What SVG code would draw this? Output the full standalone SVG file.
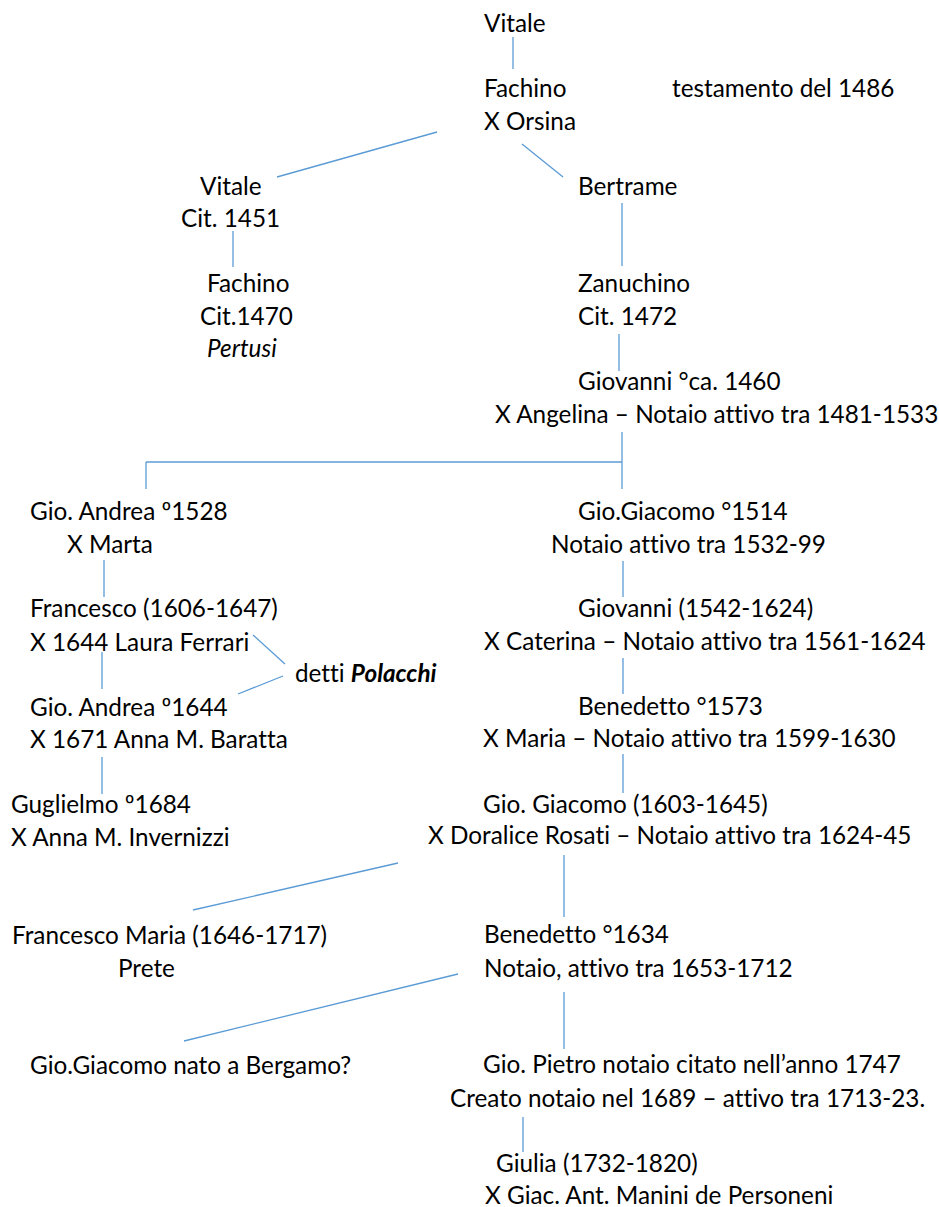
<svg xmlns="http://www.w3.org/2000/svg" width="939" height="1207" viewBox="0 0 939 1207">
  <style>
    text { font-family: Lato, Carlito, "Open Sans", sans-serif; font-size: 24.3px; fill: #000; font-variant-ligatures: none; }
    .it { font-style: italic; }
    .bi { font-style: italic; font-weight: bold; }
    #connectors line { stroke: #5B9BD5; stroke-width: 1.3; fill: none; }
  </style>
  <rect width="939" height="1207" fill="#fff"/>

  <g id="connectors">
    <line x1="513" y1="37" x2="513" y2="69"/>
    <line x1="437" y1="132" x2="277" y2="177"/>
    <line x1="522" y1="144" x2="563" y2="177"/>
    <line x1="233" y1="231" x2="233" y2="267"/>
    <line x1="622" y1="203" x2="622" y2="266"/>
    <line x1="619" y1="334" x2="619" y2="371"/>
    <line x1="622" y1="432" x2="622" y2="489"/>
    <line x1="146" y1="462" x2="622" y2="462"/>
    <line x1="146" y1="462" x2="146" y2="489"/>
    <line x1="104" y1="560" x2="104" y2="597"/>
    <line x1="102" y1="652" x2="102" y2="689"/>
    <line x1="102" y1="757" x2="102" y2="794"/>
    <line x1="253" y1="635" x2="285" y2="664"/>
    <line x1="283" y1="676" x2="238" y2="694"/>
    <line x1="623" y1="561" x2="623" y2="597"/>
    <line x1="623" y1="658" x2="623" y2="694"/>
    <line x1="623" y1="754" x2="623" y2="793"/>
    <line x1="564" y1="855" x2="564" y2="917"/>
    <line x1="398" y1="863" x2="193" y2="910"/>
    <line x1="458" y1="974" x2="184" y2="1041"/>
    <line x1="564" y1="992" x2="564" y2="1049"/>
    <line x1="523" y1="1117" x2="523" y2="1152"/>
  </g>

  <g id="vitale"><text x="484" y="32">Vitale</text></g>
  <g id="fachino"><text x="484" y="97">Fachino</text><text x="484" y="130">X Orsina</text></g>
  <g id="note-testamento"><text x="672" y="97">testamento del 1486</text></g>

  <g id="vitale-1451"><text x="200" y="195">Vitale</text><text x="181" y="227">Cit. 1451</text></g>
  <g id="fachino-1470"><text x="207" y="292">Fachino</text><text x="200" y="325">Cit.1470</text><text class="it" x="207" y="357">Pertusi</text></g>

  <g id="bertrame"><text x="578" y="195">Bertrame</text></g>
  <g id="zanuchino"><text x="578" y="292">Zanuchino</text><text x="578" y="325">Cit. 1472</text></g>
  <g id="giovanni-1460"><text x="578" y="390">Giovanni °ca. 1460</text><text x="495" y="423">X Angelina – Notaio attivo tra 1481-1533</text></g>

  <g id="gio-andrea-1528"><text x="30" y="520">Gio. Andrea º1528</text><text x="67" y="553">X Marta</text></g>
  <g id="francesco-1606"><text x="30" y="617">Francesco (1606-1647)</text><text x="30" y="651">X 1644 Laura Ferrari</text></g>
  <g id="polacchi"><text x="295" y="682">detti <tspan class="bi">Polacchi</tspan></text></g>
  <g id="gio-andrea-1644"><text x="30" y="716">Gio. Andrea º1644</text><text x="30" y="748">X 1671 Anna M. Baratta</text></g>
  <g id="guglielmo-1684"><text x="11" y="813">Guglielmo º1684</text><text x="11" y="846">X Anna M. Invernizzi</text></g>

  <g id="gio-giacomo-1514"><text x="578" y="520">Gio.Giacomo °1514</text><text x="551" y="553">Notaio attivo tra 1532-99</text></g>
  <g id="giovanni-1542"><text x="578" y="617">Giovanni (1542-1624)</text><text x="484" y="650">X Caterina – Notaio attivo tra 1561-1624</text></g>
  <g id="benedetto-1573"><text x="578" y="715">Benedetto °1573</text><text x="483" y="747">X Maria – Notaio attivo tra 1599-1630</text></g>
  <g id="gio-giacomo-1603"><text x="483" y="813">Gio. Giacomo (1603-1645)</text><text x="428" y="844">X Doralice Rosati – Notaio attivo tra 1624-45</text></g>

  <g id="francesco-maria"><text x="12" y="944">Francesco Maria (1646-1717)</text><text x="118" y="977">Prete</text></g>
  <g id="benedetto-1634"><text x="484" y="943">Benedetto °1634</text><text x="484" y="977">Notaio, attivo tra 1653-1712</text></g>
  <g id="gio-giacomo-bergamo"><text x="30" y="1074">Gio.Giacomo nato a Bergamo?</text></g>
  <g id="gio-pietro"><text x="483" y="1073">Gio. Pietro notaio citato nell’anno 1747</text><text x="450" y="1107">Creato notaio nel 1689 – attivo tra 1713-23.</text></g>
  <g id="giulia"><text x="496" y="1172">Giulia (1732-1820)</text><text x="485" y="1204">X Giac. Ant. Manini de Personeni</text></g>
</svg>
